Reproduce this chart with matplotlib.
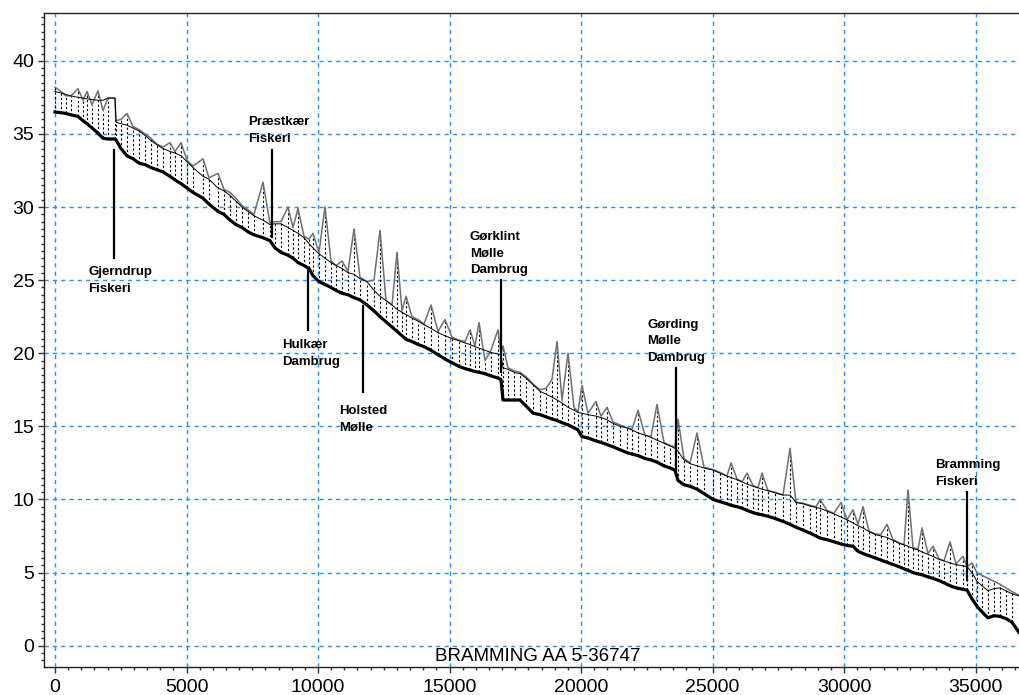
import matplotlib
matplotlib.use("Agg")
import matplotlib.pyplot as plt
from matplotlib.ticker import MultipleLocator

# ---------------- data ----------------
chainage = [0, 228, 418, 608, 874, 1065, 1217, 1407, 1635, 1825, 2015, 2281, 2319, 2509,
            2737, 2966, 3194, 3422, 3650, 3878, 4106, 4372, 4562, 4791, 5019, 5247, 5627,
            5855, 6197, 6425, 6654, 6882, 7110, 7338, 7566, 7908, 8174, 8364, 8593, 8859,
            9049, 9239, 9467, 9657, 9809, 10037, 10265, 10494, 10684, 10912, 11140, 11368,
            11596, 11862, 12128, 12357, 12585, 12813, 13003, 13193, 13345, 13573, 13801,
            14029, 14296, 14562, 14828, 15094, 15360, 15588, 15778, 15968, 16120, 16349,
            16577, 16843, 16957, 17033, 17223, 17451, 17679, 17907, 18174, 18440, 18668,
            18896, 19086, 19276, 19504, 19732, 19884, 20037, 20265, 20569, 20759, 20987,
            21215, 21481, 21747, 21938, 22166, 22432, 22660, 22888, 23154, 23382, 23572,
            23686, 23915, 24143, 24409, 24675, 25017, 25283, 25549, 25702, 25930, 26120,
            26310, 26538, 26728, 26880, 27108, 27374, 27679, 27945, 28173, 28439, 28705,
            28933, 29085, 29351, 29618, 29884, 30112, 30340, 30530, 30720, 30948, 31176,
            31405, 31633, 31861, 32089, 32279, 32431, 32621, 32811, 32963, 33191, 33382,
            33610, 33800, 34028, 34256, 34522, 34674, 34864, 35054, 35244, 35472, 35700,
            35929, 36157, 36385, 36651]

bed = [36.5, 36.45, 36.4, 36.3, 36.2, 35.9, 35.7, 35.4, 35.05, 34.7, 34.65, 34.65, 34.6, 34.0,
       33.5, 33.3, 33.0, 32.9, 32.7, 32.55, 32.4, 32.1, 31.85, 31.6, 31.3, 31.0, 30.6,
       30.2, 29.7, 29.5, 29.1, 28.8, 28.6, 28.3, 28.1, 27.9, 27.7, 27.2, 26.9, 26.7,
       26.5, 26.2, 26.0, 25.8, 25.3, 24.9, 24.7, 24.5, 24.3, 24.1, 24.0, 23.8,
       23.65, 23.3, 22.9, 22.5, 22.15, 21.8, 21.5, 21.2, 20.95, 20.8, 20.6,
       20.45, 20.2, 19.9, 19.6, 19.35, 19.1, 18.95, 18.85, 18.75, 18.7, 18.6,
       18.45, 18.3, 18.2, 16.8, 16.8, 16.8, 16.8, 16.4, 15.9, 15.8, 15.65,
       15.5, 15.4, 15.25, 15.1, 14.9, 14.75, 14.3, 14.2, 14.0, 13.9, 13.75,
       13.6, 13.4, 13.2, 13.1, 13.0, 12.8, 12.7, 12.55, 12.3, 12.15, 12.0,
       11.3, 11.0, 10.9, 10.7, 10.4, 10.0, 9.85, 9.7, 9.6, 9.5, 9.4,
       9.25, 9.1, 9.0, 8.95, 8.85, 8.7, 8.5, 8.3, 8.1, 7.9, 7.7,
       7.5, 7.35, 7.25, 7.1, 6.95, 6.85, 6.8, 6.45, 6.3, 6.15, 6.0,
       5.85, 5.7, 5.55, 5.4, 5.25, 5.15, 5.0, 4.9, 4.85, 4.7, 4.6,
       4.45, 4.3, 4.1, 3.95, 3.85, 3.8, 3.2, 2.7, 2.3, 1.9, 2.05,
       2.0, 1.85, 1.6, 0.9]

water = [37.9, 37.8, 37.7, 37.6, 37.5, 37.45, 37.4, 37.35, 37.3, 37.3, 37.45, 37.45, 35.8, 35.7,
         35.6, 35.4, 35.2, 34.9, 34.55, 34.25, 34.0, 33.8, 33.7, 33.5, 33.1, 32.7, 32.1,
         31.9, 31.3, 31.1, 30.8, 30.4, 30.0, 29.7, 29.4, 29.1, 28.8, 28.85, 28.85, 28.6,
         28.4, 28.2, 27.9, 27.5, 27.2, 26.8, 26.5, 26.2, 26.0, 25.8, 25.5, 25.4,
         25.1, 24.9, 24.3, 23.9, 23.6, 23.3, 23.0, 22.8, 22.65, 22.4, 22.2,
         21.95, 21.7, 21.4, 21.2, 21.0, 20.85, 20.7, 20.6, 20.45, 20.35, 20.2,
         20.05, 19.95, 19.9, 19.0, 18.9, 18.7, 18.6, 18.3, 17.85, 17.4, 17.2,
         17.0, 16.8, 16.6, 16.3, 16.1, 15.95, 15.9, 15.8, 15.7, 15.6, 15.45,
         15.2, 15.0, 14.9, 14.75, 14.55, 14.4, 14.25, 14.05, 13.85, 13.65, 13.5,
         13.3, 12.7, 12.45, 12.3, 12.15, 12.0, 11.8, 11.6, 11.5, 11.35, 11.2,
         11.05, 10.9, 10.8, 10.7, 10.6, 10.45, 10.3, 10.3, 9.8, 9.7, 9.55,
         9.45, 9.4, 9.2, 9.0, 8.8, 8.6, 8.4, 8.2, 8.05, 7.8, 7.6,
         7.5, 7.4, 7.2, 7.0, 6.9, 6.8, 6.65, 6.55, 6.4, 6.25, 6.1,
         5.9, 5.8, 5.65, 5.55, 5.45, 5.4, 5.0, 4.4, 4.1, 3.75, 3.9,
         3.95, 3.75, 3.55, 3.4]

bank = [38.2, 37.9, 37.6, 37.6, 38.1, 37.3, 37.9, 37.0, 37.95, 36.6, 37.45, 37.45, 35.9, 36.0,
        36.4, 35.5, 35.3, 35.0, 34.7, 34.3, 34.1, 34.4, 33.8, 34.4, 33.2, 32.8, 33.3,
        32.0, 32.3, 31.2, 31.0, 30.6, 30.1, 29.8, 29.5, 31.7, 28.9, 29.0, 29.0, 30.0,
        28.6, 29.9, 28.0, 27.8, 28.2, 26.9, 30.0, 26.3, 26.0, 26.3, 25.6, 28.5,
        25.2, 24.9, 25.0, 28.4, 23.6, 23.3, 26.9, 22.9, 23.9, 22.5, 22.3,
        22.0, 23.3, 21.5, 22.3, 21.1, 20.9, 20.8, 21.6, 20.5, 22.1, 19.5,
        20.2, 21.6, 20.0, 20.5, 19.0, 18.8, 18.7, 18.4, 17.9, 17.5, 17.6,
        18.2, 20.8, 16.8, 20.0, 16.3, 16.0, 17.8, 15.9, 16.7, 15.7, 16.3,
        15.3, 15.1, 14.9, 14.8, 16.1, 14.4, 14.3, 16.5, 13.9, 13.7, 13.6,
        15.5, 12.8, 12.5, 14.55, 12.2, 12.05, 11.85, 11.6, 12.5, 11.4, 11.2,
        11.8, 10.95, 10.8, 11.8, 10.6, 10.5, 10.3, 13.5, 9.8, 9.75, 9.6,
        9.5, 10.0, 9.25, 9.05, 9.8, 8.6, 9.3, 8.3, 9.5, 7.85, 7.65,
        7.6, 8.3, 7.25, 7.05, 6.9, 10.65, 6.7, 6.6, 8.05, 6.3, 6.8,
        5.95, 5.8, 7.1, 5.6, 6.1, 5.4, 5.65, 5.0, 4.8, 4.6, 4.4,
        4.2, 3.95, 3.7, 3.45]

site_names = ["Gjerndrup\nFiskeri", "Præstkær\nFiskeri", "Hulkær\nDambrug",
              "Holsted\nMølle", "Gørklint\nMølle\nDambrug", "Gørding\nMølle\nDambrug",
              "Bramming\nFiskeri"]
site_chainage = [2243, 8250, 9619, 11710, 16957, 23610, 34674]

title = "BRAMMING AA 5-36747"

# ---------------- layout for the annotations ----------------
marker_y0 = [33.9, 33.9, 25.85, 23.25, 25.0, 19.0, 10.5]
marker_y1 = [26.5, 27.95, 21.6, 17.35, 18.7, 12.03, 4.5]
label_x = [1255, 7338, 8630, 10797, 15778, 22508, 33458]
label_y = [25.95, 36.2, 20.95, 16.45, 28.35, 22.35, 12.75]

plt.rcParams['font.family'] = ['Liberation Sans', 'DejaVu Sans']

fig = plt.figure(figsize=(10.19, 6.95), dpi=100)
ax = fig.add_axes([44 / 1019, 1 - 667 / 695, 1 - 44 / 1019, (667 - 13) / 695])

ax.set_xlim(-418, 36651)
ax.set_ylim(-1.46, 43.27)

ax.xaxis.set_major_locator(MultipleLocator(5000))
ax.xaxis.set_minor_locator(MultipleLocator(500))
ax.yaxis.set_major_locator(MultipleLocator(5))
ax.yaxis.set_minor_locator(MultipleLocator(0.5))

ax.grid(True, which='major', color='#1E90FF', linestyle=(0, (3, 3)), linewidth=1.0, zorder=0)
ax.set_axisbelow(True)

ax.tick_params(axis='both', which='major', direction='out', length=4, width=1,
               color='#333333', labelsize=14, pad=3)
ax.tick_params(axis='x', which='major', pad=5)
ax.tick_params(axis='both', which='minor', direction='out', length=2.5, width=1,
               color='#333333')
ax.spines['right'].set_visible(False)
for s in ['left', 'top', 'bottom']:
    ax.spines[s].set_color('#222222')
    ax.spines[s].set_linewidth(1.0)

# dotted verticals at each cross-section
ax.vlines(chainage, bed, bank, colors='black', linestyles=(0, (2, 2)), linewidth=0.8, zorder=2)
# bank top (grey), water level (thin black), bed (thick black)
ax.plot(chainage, bank, color='#707070', linewidth=1.1, zorder=3)
ax.plot(chainage, water, color='black', linewidth=0.7, zorder=4)
ax.plot(chainage, bed, color='black', linewidth=2.3, zorder=5, solid_joinstyle='round')

for name, xc, y0, y1, lx, ly in zip(site_names, site_chainage, marker_y0, marker_y1, label_x, label_y):
    ax.plot([xc, xc], [y0, y1], color='black', linewidth=1.6, zorder=6)
    ax.text(lx, ly, name, fontsize=9.5, fontweight='bold', ha='left', va='top',
            linespacing=1.5, zorder=7)

ax.text(18364, -0.73, title, fontsize=13.5, ha='center', va='center', zorder=7)

fig.savefig("out.png", dpi=100)
